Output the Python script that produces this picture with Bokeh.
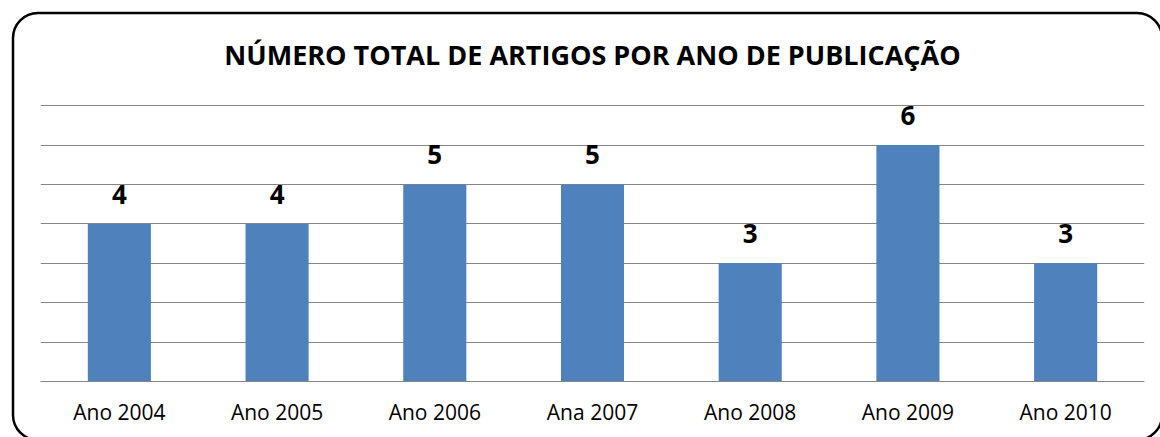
from urllib.parse import quote
from bokeh.plotting import figure
from bokeh.models import ColumnDataSource, LabelSet, FixedTicker, FactorRange, Range1d
from bokeh.core.properties import value
from bokeh.embed import file_html
from bokeh.resources import INLINE

categories = ["Ano 2004", "Ano 2005", "Ano 2006", "Ana 2007", "Ano 2008", "Ano 2009", "Ano 2010"]
values = [4, 4, 5, 5, 3, 6, 3]
y_ticks = [0, 1, 2, 3, 4, 5, 6, 7]
title_text = "NÚMERO TOTAL DE ARTIGOS POR ANO DE PUBLICAÇÃO"

source = ColumnDataSource(dict(cat=categories, val=values, lab=[str(v) for v in values]))

W, H = 1160, 437
FL, FR, FT, FB = 40, 1144, 104, 381   # frame edges in canvas pixels

p = figure(
    width=W, height=H,
    x_range=FactorRange(*categories, range_padding=0),
    y_range=Range1d(0, 7.03),
    output_backend="svg", toolbar_location=None,
    min_border_left=FL, min_border_right=W - FR, min_border_top=FT, min_border_bottom=H - FB,
)
p.title.text = title_text
p.title.align = "center"
p.title.text_font = "Open Sans"
p.title.text_font_size = "27px"
p.title.text_font_style = "bold"
p.title.text_color = "black"
p.title.standoff = 64

p.vbar(x="cat", top="val", width=0.4, source=source, fill_color="#4F81BD", line_color=None)

labels = LabelSet(x="cat", y="val", text="lab", source=source, text_align="center",
                  text_baseline="alphabetic", y_offset=20, text_font_size=value("26px"),
                  text_font_style="bold", text_font=value("Open Sans"), text_color="black")
p.add_layout(labels)

p.yaxis.visible = False
p.ygrid.ticker = FixedTicker(ticks=y_ticks)
p.ygrid.grid_line_color = "#868686"
p.ygrid.grid_line_width = 1
p.xgrid.grid_line_color = None
p.outline_line_color = None

p.xaxis.axis_line_color = "#868686"
p.xaxis.major_tick_line_color = None
p.xaxis.minor_tick_line_color = None
p.xaxis.major_label_text_font = "Open Sans"
p.xaxis.major_label_text_font_size = "21px"
p.xaxis.major_label_text_color = "black"
p.xaxis.major_label_standoff = 10

# transparent canvas so the rounded chart-area border drawn behind it shows through
p.border_fill_color = None
p.background_fill_color = None
frame_svg = (
    f'<svg xmlns="http://www.w3.org/2000/svg" width="{W}" height="{H}">'
    '<rect x="13" y="13" width="1149" height="427" rx="25" ry="25" '
    'fill="none" stroke="black" stroke-width="2.5"/></svg>'
)
p.styles = {
    "background-color": "white",
    "background-image": f'url("data:image/svg+xml,{quote(frame_svg)}")',
    "background-repeat": "no-repeat",
    "background-position": "0 0",
    "background-size": f"{W}px {H}px",
}

open("out.html", "w").write(file_html(p, INLINE))
